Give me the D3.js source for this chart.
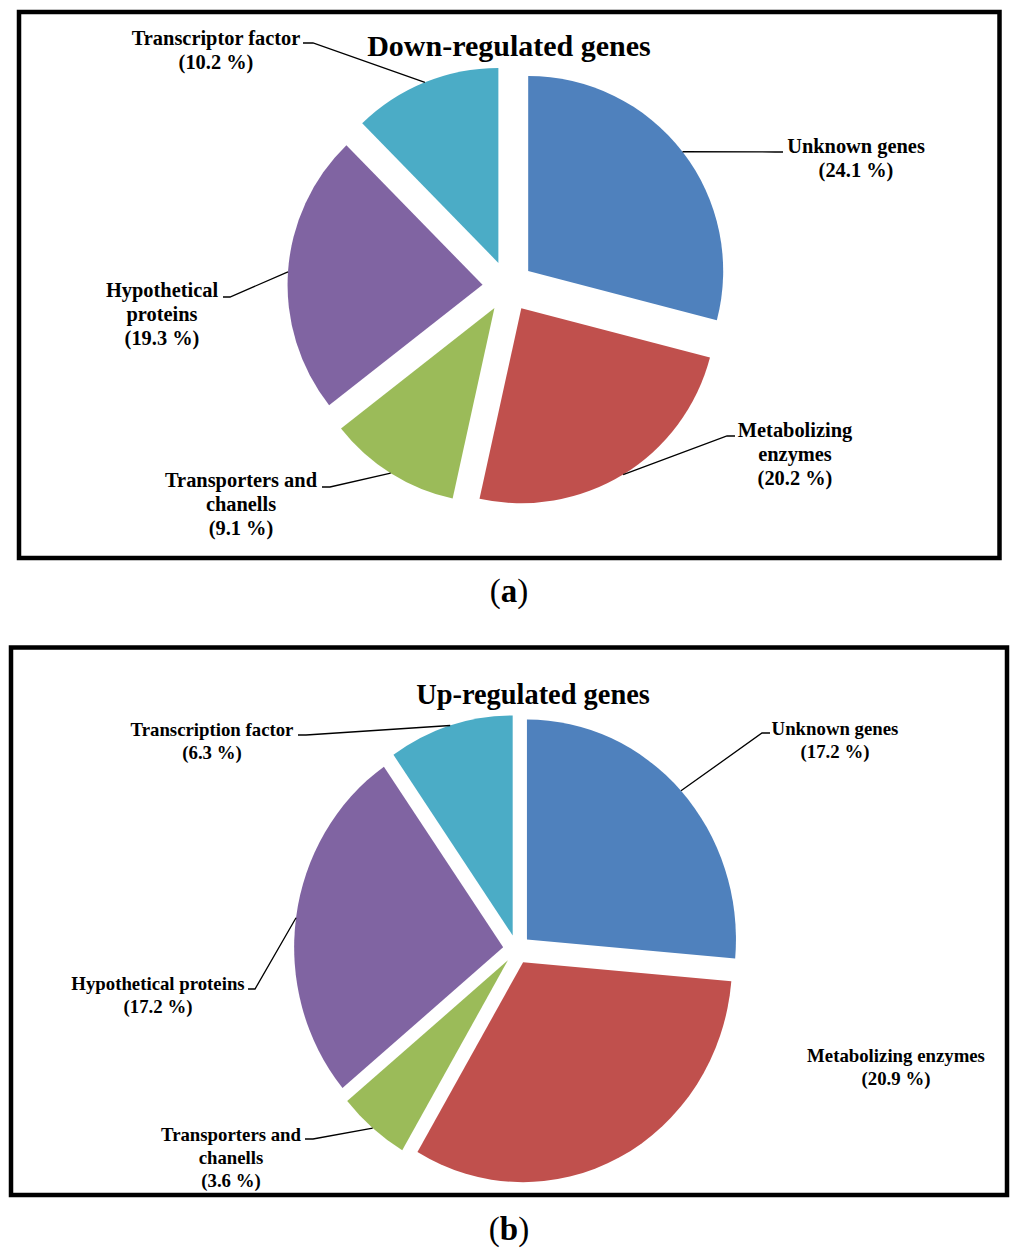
<!DOCTYPE html>
<html>
<head>
<meta charset="utf-8">
<script src="https://cdn.jsdelivr.net/npm/d3@7"></script>
<style>
  html, body { margin: 0; padding: 0; background: #fff; }
  text { font-family: "Liberation Serif", "Times New Roman", serif; font-weight: bold; fill: #000; }
</style>
</head>
<body>
<div id="chart"></div>
<script>
// data
const downCategories = ["Unknown genes", "Metabolizing enzymes", "Transporters and chanells", "Hypothetical proteins", "Transcriptor factor"];
const downValues = [24.1, 20.2, 9.1, 19.3, 10.2];
const upCategories = ["Unknown genes", "Metabolizing enzymes", "Transporters and chanells", "Hypothetical proteins", "Transcription factor"];
const upValues = [17.2, 20.9, 3.6, 17.2, 6.3];
const sliceColors = ["#4f81bd", "#c0504d", "#9bbb59", "#8064a2", "#4bacc6"];

const W = 1024, H = 1256;
const svg = d3.select('#chart').append('svg')
    .attr('width', W).attr('height', H)
    .attr('viewBox', `0 0 ${W} ${H}`);

// label placement per slice: text centre, first baseline, wrap, leader end + elbow
const panels = [
    {
        title: "Down-regulated genes", titleX: 509, titleY: 56, titleSize: 30,
        caption: "a", capY: 602,
        frame: [19, 12, 980.5, 546],
        cx: 508, cy: 286.5, r: 195, sx: 1, sy: 1, explode: 25.5,
        cats: downCategories, values: downValues,
        fontSize: 20.4, lh: 24,
        labels: [
            { x: 856, y: 153, wrap: false, end: [783, 152], elbow: [775, 152] },
            { x: 795, y: 437, wrap: true, end: [735, 436], elbow: [727, 436] },
            { x: 241, y: 487, wrap: true, end: [322, 487], elbow: [330, 487] },
            { x: 162, y: 297, wrap: true, end: [223, 297], elbow: [230, 297] },
            { x: 216, y: 45, wrap: false, end: [303, 43], elbow: [313, 43] }
        ]
    },
    {
        title: "Up-regulated genes", titleX: 533, titleY: 704, titleSize: 28.4,
        caption: "b", capY: 1240,
        frame: [11, 647.5, 996, 547.5],
        cx: 516.8, cy: 949.3, r: 220, sx: 209 / 220, sy: 1, explode: 14.5,
        cats: upCategories, values: upValues,
        fontSize: 18.8, lh: 23,
        labels: [
            { x: 835, y: 735, wrap: false, end: [770, 733], elbow: [762, 733] },
            { x: 896, y: 1062, wrap: false, end: null },
            { x: 231, y: 1141, wrap: true, end: [305, 1139], elbow: [313, 1139] },
            { x: 158, y: 990, wrap: false, end: [248, 989], elbow: [255, 989] },
            { x: 212, y: 736, wrap: false, end: [298, 735], elbow: [306, 735] }
        ]
    }
];

const pie = d3.pie().sort(null).value(d => d);

panels.forEach(p => {
    const [fx, fy, fw, fh] = p.frame;
    svg.append('rect')
        .attr('x', fx).attr('y', fy).attr('width', fw).attr('height', fh)
        .attr('fill', 'none').attr('stroke', '#000').attr('stroke-width', 4.5);

    svg.append('text')
        .attr('x', p.titleX).attr('y', p.titleY)
        .attr('text-anchor', 'middle')
        .style('font-size', p.titleSize + 'px')
        .text(p.title);

    const arcs = pie(p.values);
    const arc = d3.arc().innerRadius(0).outerRadius(p.r);

    const g = svg.append('g')
        .attr('transform', `translate(${p.cx},${p.cy}) scale(${p.sx},${p.sy})`);

    // offset along the bisector of each slice
    const shift = d => {
        const mid = (d.startAngle + d.endAngle) / 2;
        return [p.explode * Math.sin(mid), -p.explode * Math.cos(mid)];
    };

    g.selectAll('path.slice')
        .data(arcs)
        .enter()
        .append('path')
        .attr('class', 'slice')
        .attr('d', arc)
        .attr('transform', d => `translate(${shift(d)})`)
        .attr('fill', (d, i) => sliceColors[i]);

    // point on the outer arc at the slice middle, page coords
    const arcMid = d => {
        const mid = (d.startAngle + d.endAngle) / 2;
        const [ox, oy] = shift(d);
        return [
            p.cx + p.sx * (ox + p.r * Math.sin(mid)),
            p.cy + p.sy * (oy - p.r * Math.cos(mid))
        ];
    };

    arcs.forEach((d, i) => {
        const lab = p.labels[i];
        const name = p.cats[i];
        let lines;
        if (lab.wrap) {
            const k = name.lastIndexOf(' ');
            lines = [name.slice(0, k), name.slice(k + 1)];
        } else {
            lines = [name];
        }
        lines.push(`(${p.values[i].toFixed(1)} %)`);

        const t = svg.append('text')
            .attr('text-anchor', 'middle')
            .style('font-size', p.fontSize + 'px');
        lines.forEach((ln, j) => {
            t.append('tspan')
                .attr('x', lab.x)
                .attr('y', lab.y + j * p.lh)
                .text(ln);
        });

        if (lab.end) {
            const pts = [arcMid(d), lab.elbow, lab.end];
            svg.append('path')
                .attr('d', d3.line()(pts))
                .attr('fill', 'none')
                .attr('stroke', '#000')
                .attr('stroke-width', 1.3);
        }
    });

    const cap = svg.append('text')
        .attr('x', 509).attr('y', p.capY)
        .attr('text-anchor', 'middle')
        .style('font-size', '33px');
    cap.append('tspan').style('font-weight', 'normal').text('(');
    cap.append('tspan').text(p.caption);
    cap.append('tspan').style('font-weight', 'normal').text(')');
});
</script>
</body>
</html>
